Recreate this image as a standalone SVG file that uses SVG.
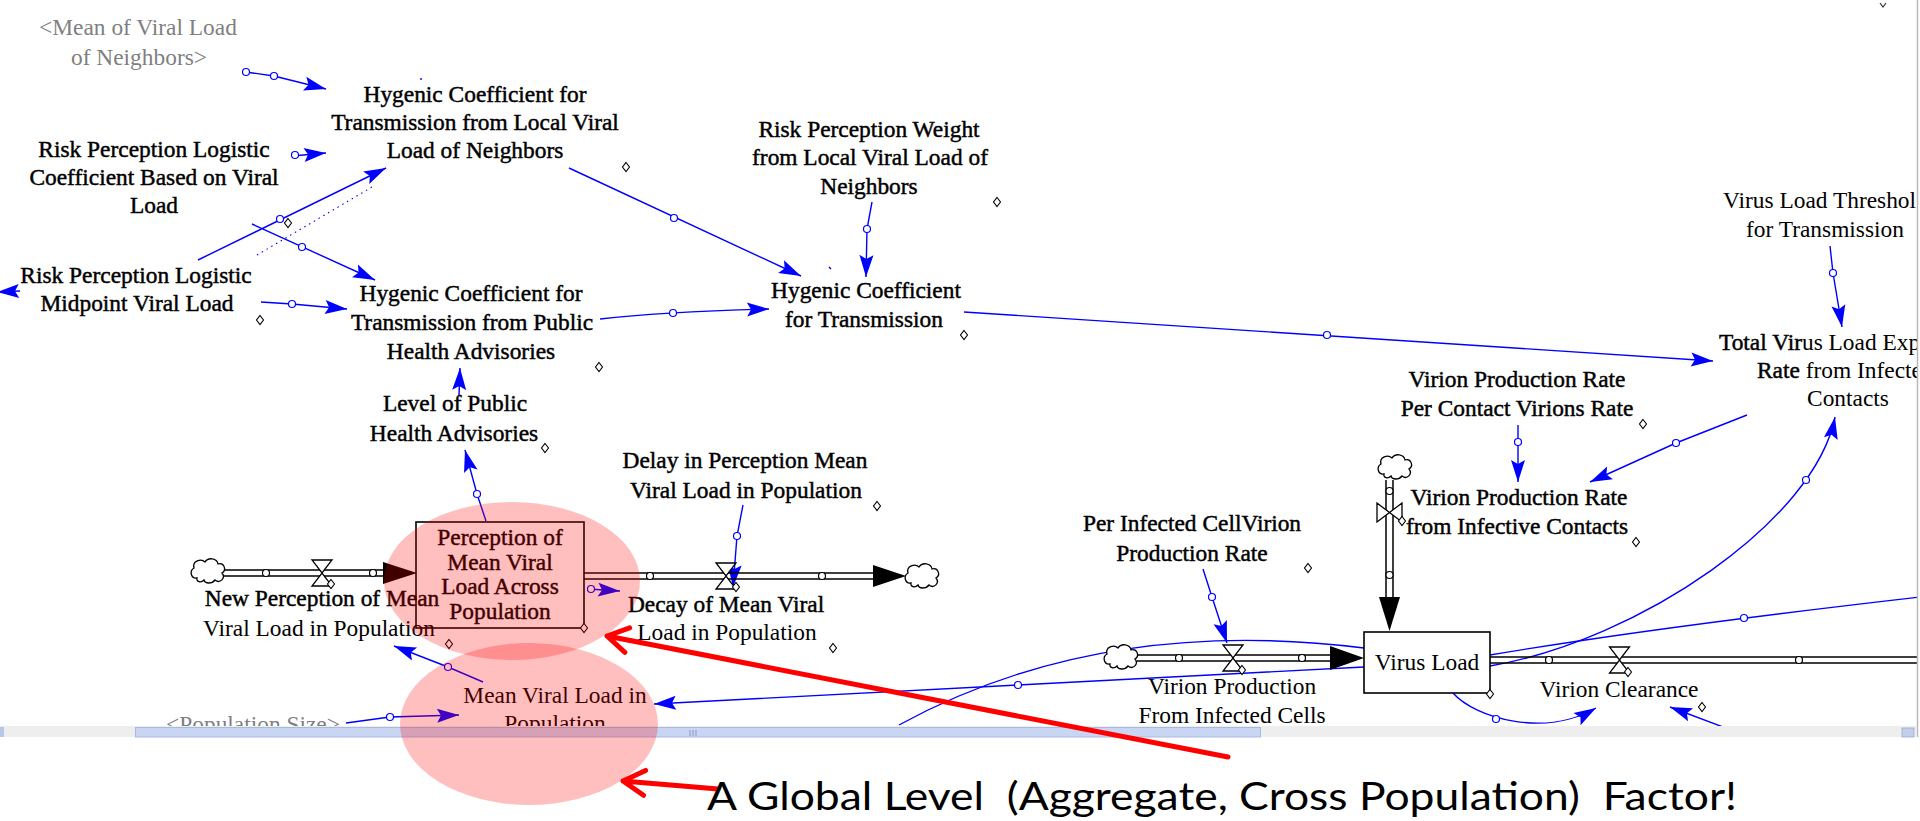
<svg xmlns="http://www.w3.org/2000/svg" width="1920" height="821" viewBox="0 0 1920 821">
<defs>
<style>
.lbl{font-family:"Liberation Serif","Times New Roman",serif;font-size:23.4px;fill:#000;text-anchor:middle}
.hv{stroke:#000;stroke-width:0.45px}
.gry{fill:#7f7f7f}
.st{text-anchor:start}
.lk{fill:none;stroke:#0000ff;stroke-width:1.4}
.dot{fill:none;stroke:#0000ff;stroke-width:1.1;stroke-dasharray:1.5 4}
.hd{fill:#fff;stroke:#0000ff;stroke-width:1.2}
.dm{fill:#fff;stroke:#000;stroke-width:1.1}
.pp{stroke:#000;stroke-width:1.5;fill:none}
.pc{fill:#fff;stroke:#000;stroke-width:1.2}
.vlv{fill:#fff;stroke:#000;stroke-width:1.3}
.cl{fill:#fff;stroke:#000;stroke-width:1.3}
.box{fill:#fff;stroke:#000;stroke-width:1.6}
.pah{fill:#000}
.hl{fill:#ff0000;fill-opacity:0.25}
.red{fill:none;stroke:#ff0000;stroke-width:5;stroke-linecap:round;stroke-linejoin:round}
.cap{font-family:Lato,"Open Sans",sans-serif;font-size:38px;fill:#000;white-space:pre}
</style>
<marker id="ah" markerUnits="userSpaceOnUse" markerWidth="26" markerHeight="18" viewBox="-24 -9 26 18" refX="0" refY="0" orient="auto">
<path d="M0,0 L-22,-7 L-18,0 L-22,7 Z" fill="#0000ff"/>
</marker>
<path id="cloud" d="M-11,7 C-17,8 -19,0 -14,-3 C-16,-10 -7,-13 -3,-9 C0,-14 9,-13 10,-7 C16,-9 19,-1 14,2 C18,7 12,13 7,9 C4,13 -3,13 -4,9 C-7,12 -12,11 -11,7 Z"/>
<path id="dia" d="M0,-4.5 L3.5,0 L0,4.5 L-3.5,0 Z"/>
<path id="hg" d="M-10,-13 L10,-13 L0,0 Z M-10,13 L10,13 L0,0 Z"/>
<path id="bt" d="M-12.5,-9.5 L-12.5,9.5 L0,0 Z M12.5,-9.5 L12.5,9.5 L0,0 Z"/>
<clipPath id="scr"><rect x="0" y="0" width="1917" height="726"/></clipPath>
</defs>

<rect x="0" y="0" width="1920" height="821" fill="#fff"/>

<g clip-path="url(#scr)">

<!-- links -->
<g id="connectors">
<path class="lk" d="M246,72 L274,76 L326,89" marker-end="url(#ah)"/>
<path class="lk" d="M292,156 L326,153" marker-end="url(#ah)"/>
<path class="lk" d="M198,260 L386,168" marker-end="url(#ah)"/>
<path class="lk" d="M252,224 L375,280" marker-end="url(#ah)"/>
<path class="dot" d="M257,255 L372,187"/>
<path class="lk" d="M569,168 L801,276" marker-end="url(#ah)"/>
<path class="lk" d="M872,202 L867,229 L866,277" marker-end="url(#ah)"/>
<path class="lk" d="M261,302 L292,304 L347,309" marker-end="url(#ah)"/>
<path class="lk" d="M20,291 L-3,292" marker-end="url(#ah)"/>
<path class="lk" d="M600,319 Q660,312 769,309" marker-end="url(#ah)"/>
<path class="lk" d="M459,395 L460,368" marker-end="url(#ah)"/>
<path class="lk" d="M486,521 L477,494 L465,450" marker-end="url(#ah)"/>
<path class="lk" d="M964,312 L1713,361" marker-end="url(#ah)"/>
<path class="lk" d="M1830,246 L1833,273 L1842,327" marker-end="url(#ah)"/>
<path class="lk" d="M1518,425 L1518,482" marker-end="url(#ah)"/>
<path class="lk" d="M1747,415 L1676,443 L1590,482" marker-end="url(#ah)"/>
<path class="lk" d="M1490,666 C1640,640 1815,520 1835,417" marker-end="url(#ah)"/>
<path class="lk" d="M743,505 L737,536 L733,587" marker-end="url(#ah)"/>
<path class="lk" d="M588,589 L620,591" marker-end="url(#ah)"/>
<path class="lk" d="M483,682 L448,667 L394,646" marker-end="url(#ah)"/>
<path class="lk" d="M346,723 L390,717 L459,715" marker-end="url(#ah)"/>
<path class="lk" d="M1203,569 L1212,597 L1227,643" marker-end="url(#ah)"/>
<path class="lk" d="M1364,667 L1018,685 L654,704" marker-end="url(#ah)"/>
<path class="lk" d="M899,725 Q1100,615 1364,648"/>
<path class="lk" d="M1490,655 Q1650,628 1920,597"/>
<path class="lk" d="M1453,693 C1475,718 1545,738 1596,708" marker-end="url(#ah)"/>
<path class="lk" d="M1723,727 L1670,707" marker-end="url(#ah)"/>
<path class="lk" d="M421,78 l0,2 M829,267 l2,2"/>
<!-- link handles -->
<circle class="hd" cx="246" cy="72" r="3.5"/>
<circle class="hd" cx="274" cy="76" r="3.5"/>
<circle class="hd" cx="295" cy="155" r="3.5"/>
<circle class="hd" cx="280" cy="219" r="3.5"/>
<circle class="hd" cx="302" cy="247" r="3.5"/>
<circle class="hd" cx="674" cy="218" r="3.5"/>
<circle class="hd" cx="867" cy="229" r="3.5"/>
<circle class="hd" cx="292" cy="304" r="3.5"/>
<circle class="hd" cx="673" cy="313" r="3.5"/>
<circle class="hd" cx="477" cy="494" r="3.5"/>
<circle class="hd" cx="1327" cy="335" r="3.5"/>
<circle class="hd" cx="1833" cy="273" r="3.5"/>
<circle class="hd" cx="1518" cy="442" r="3.5"/>
<circle class="hd" cx="1676" cy="443" r="3.5"/>
<circle class="hd" cx="1806" cy="480" r="3.5"/>
<circle class="hd" cx="737" cy="536" r="3.5"/>
<circle class="hd" cx="591" cy="589" r="3.5"/>
<circle class="hd" cx="448" cy="667" r="3.5"/>
<circle class="hd" cx="390" cy="717" r="3.5"/>
<circle class="hd" cx="1212" cy="597" r="3.5"/>
<circle class="hd" cx="1018" cy="685" r="3.5"/>
<circle class="hd" cx="1744" cy="618" r="3.5"/>
<circle class="hd" cx="1496" cy="719" r="3.5"/>
</g>

<!-- stocks -->
<g id="s-perception">
<rect class="box" x="416" y="522" width="168" height="106"/>
<text class="lbl hv"><tspan x="500" y="545">Perception of</tspan><tspan x="500" y="569.5">Mean Viral</tspan><tspan x="500" y="594">Load Across</tspan><tspan x="500" y="619">Population</tspan></text>
<use href="#dia" class="dm" x="584" y="628"/>
</g>
<g id="s-virus-load">
<rect class="box" x="1364" y="632" width="126" height="61"/>
<text class="lbl" x="1427" y="670">Virus Load</text>
<use href="#dia" class="dm" x="1490" y="694"/>
</g>

<!-- variables -->
<g id="v-mean-viral-neighbors">
<text class="lbl gry"><tspan x="138" y="35">&lt;Mean of Viral Load</tspan><tspan x="139" y="65">of Neighbors&gt;</tspan></text>
</g>
<g id="v-hygenic-local">
<text class="lbl hv"><tspan x="475" y="102">Hygenic Coefficient for</tspan><tspan x="475" y="130">Transmission from Local Viral</tspan><tspan x="475" y="158">Load of Neighbors</tspan></text>
<use href="#dia" class="dm" x="626" y="167"/>
</g>
<g id="v-rp-coefficient">
<text class="lbl hv"><tspan x="154" y="157">Risk Perception Logistic</tspan><tspan x="154" y="185">Coefficient Based on Viral</tspan><tspan x="154" y="213">Load</tspan></text>
<use href="#dia" class="dm" x="288" y="223"/>
</g>
<g id="v-rp-midpoint">
<text class="lbl hv"><tspan x="136" y="283">Risk Perception Logistic</tspan><tspan x="137" y="311">Midpoint Viral Load</tspan></text>
<use href="#dia" class="dm" x="260" y="320"/>
</g>
<g id="v-hygenic-public">
<text class="lbl hv"><tspan x="471" y="301">Hygenic Coefficient for</tspan><tspan x="472" y="330">Transmission from Public</tspan><tspan x="471" y="359">Health Advisories</tspan></text>
<use href="#dia" class="dm" x="599" y="367"/>
</g>
<g id="v-level-advisories">
<text class="lbl hv"><tspan x="455" y="411">Level of Public</tspan><tspan x="454" y="441">Health Advisories</tspan></text>
<use href="#dia" class="dm" x="545" y="448"/>
</g>
<g id="v-rp-weight">
<text class="lbl hv"><tspan x="869" y="137">Risk Perception Weight</tspan><tspan x="870" y="165">from Local Viral Load of</tspan><tspan x="869" y="194">Neighbors</tspan></text>
<use href="#dia" class="dm" x="997" y="202"/>
</g>
<g id="v-hygenic-transmission">
<text class="lbl hv"><tspan x="866" y="298">Hygenic Coefficient</tspan><tspan x="864" y="327">for Transmission</tspan></text>
<use href="#dia" class="dm" x="964" y="335"/>
</g>
<g id="v-threshold">
<text class="lbl"><tspan class="st" x="1723" y="208">Virus Load Threshol</tspan><tspan x="1825" y="237">for Transmission</tspan></text>
</g>
<g id="v-total-exposure">
<text class="lbl"><tspan class="st" x="1719" y="350"><tspan class="hv">Total Vir</tspan>us Load Exp</tspan><tspan class="st" x="1757" y="378"><tspan class="hv">Rate</tspan> from Infecte</tspan><tspan x="1848" y="406">Contacts</tspan></text>
</g>
<g id="v-vpr-contact">
<text class="lbl hv"><tspan x="1517" y="387">Virion Production Rate</tspan><tspan x="1517" y="416">Per Contact Virions Rate</tspan></text>
<use href="#dia" class="dm" x="1643" y="424"/>
</g>
<g id="v-per-cell">
<text class="lbl hv"><tspan x="1192" y="531">Per Infected CellVirion</tspan><tspan x="1192" y="561">Production Rate</tspan></text>
<use href="#dia" class="dm" x="1308" y="568"/>
</g>
<g id="v-delay">
<text class="lbl hv"><tspan x="745" y="468">Delay in Perception Mean</tspan><tspan x="746" y="498">Viral Load in Population</tspan></text>
<use href="#dia" class="dm" x="877" y="506"/>
</g>
<g id="v-mean-population">
<text class="lbl"><tspan x="555" y="703">Mean Viral Load in</tspan><tspan x="555" y="731">Population</tspan></text>
</g>
<g id="v-population-size">
<text class="lbl gry" x="253" y="732">&lt;Population Size&gt;</text>
</g>

<!-- flows -->
<g id="f-new-perception">
<use href="#cloud" class="cl" x="208" y="571"/>
<path class="pp" d="M224,570 H385 M224,576 H385"/>
<circle class="pc" cx="266" cy="573" r="3.5"/>
<circle class="pc" cx="373" cy="573" r="3.5"/>
<polygon class="pah" points="383,562 417,573 383,584"/>
<use href="#hg" class="vlv" x="322" y="573"/>
<use href="#dia" class="dm" x="331" y="584"/>
<text class="lbl"><tspan class="hv" x="322" y="606">New Perception of Mean</tspan><tspan x="319" y="636">Viral Load in Population</tspan></text>
<use href="#dia" class="dm" x="449" y="644"/>
</g>
<g id="f-decay">
<path class="pp" d="M584,573 H875 M584,579 H875"/>
<circle class="pc" cx="650" cy="576" r="3.5"/>
<circle class="pc" cx="822" cy="576" r="3.5"/>
<polygon class="pah" points="873,565 906,576 873,587"/>
<use href="#cloud" class="cl" x="922" y="576"/>
<use href="#hg" class="vlv" x="726" y="576"/>
<use href="#dia" class="dm" x="736" y="587"/>
<text class="lbl"><tspan class="hv" x="726" y="612">Decay of Mean Viral</tspan><tspan x="727" y="640">Load in Population</tspan></text>
<use href="#dia" class="dm" x="833" y="648"/>
</g>
<g id="f-virion-production">
<use href="#cloud" class="cl" x="1121" y="657"/>
<path class="pp" d="M1137,655 H1332 M1137,661 H1332"/>
<circle class="pc" cx="1179" cy="658" r="3.5"/>
<circle class="pc" cx="1302" cy="658" r="3.5"/>
<polygon class="pah" points="1330,646 1364,658 1330,670"/>
<use href="#hg" class="vlv" x="1233" y="658"/>
<use href="#dia" class="dm" x="1242" y="670"/>
<text class="lbl"><tspan x="1232" y="694">Virion Production</tspan><tspan x="1232" y="723">From Infected Cells</tspan></text>
</g>
<g id="f-infective-production">
<use href="#cloud" class="cl" x="1395" y="467"/>
<path class="pp" d="M1386,480 V599 M1393,480 V599"/>
<circle class="pc" cx="1389.5" cy="491" r="3.5"/>
<circle class="pc" cx="1389.5" cy="575" r="3.5"/>
<polygon class="pah" points="1379,597 1389.5,631 1400,597"/>
<use href="#bt" class="vlv" x="1389.5" y="512.5"/>
<use href="#dia" class="dm" x="1402" y="521"/>
<text class="lbl hv"><tspan x="1519" y="505">Virion Production Rate</tspan><tspan x="1517" y="534">from Infective Contacts</tspan></text>
<use href="#dia" class="dm" x="1636" y="542"/>
</g>
<g id="f-clearance">
<path class="pp" d="M1490,657 H1920 M1490,663 H1920"/>
<circle class="pc" cx="1549" cy="660" r="3.5"/>
<circle class="pc" cx="1799" cy="660" r="3.5"/>
<use href="#hg" class="vlv" x="1619.5" y="660"/>
<use href="#dia" class="dm" x="1628" y="672"/>
<text class="lbl" x="1619" y="697">Virion Clearance</text>
<use href="#dia" class="dm" x="1702" y="707"/>
</g>

<path d="M1880,3 L1883,7 L1886,3" fill="none" stroke="#333" stroke-width="1.2"/>
</g>

<!-- window frame -->
<g id="frame">
<line x1="1917.5" y1="0" x2="1917.5" y2="737" stroke="#b8b8b8" stroke-width="1.5"/>
<rect x="0" y="726" width="1917" height="11" fill="#eeeeee"/>
<rect x="0" y="727" width="4" height="10" fill="#b8c8ec"/>
<rect x="135.5" y="727.5" width="1125" height="9.5" fill="#c8d6f4" stroke="#a9b9e2" stroke-width="1"/>
<path d="M690,730 v6 M693,730 v6 M696,730 v6" stroke="#8797c6" stroke-width="1"/>
<rect x="1902" y="728" width="12" height="9" fill="#c3cfe9" stroke="#9aa8cc" stroke-width="0.8"/>
</g>

<!-- highlights -->
<g id="highlights">
<ellipse class="hl" cx="512" cy="581" rx="128" ry="79"/>
<ellipse class="hl" cx="529" cy="724" rx="129" ry="81"/>
<path class="red" d="M1228,757 L607,636 M629.6,627.9 L607,636 L624.9,652.4"/>
<path class="red" d="M718,789 L623,781 M645.6,770.4 L623,781 L643.5,795.3"/>
</g>

<text class="cap" x="707" y="810" textLength="1030" lengthAdjust="spacingAndGlyphs" xml:space="preserve">A Global Level  (Aggregate, Cross Population)  Factor!</text>
</svg>
